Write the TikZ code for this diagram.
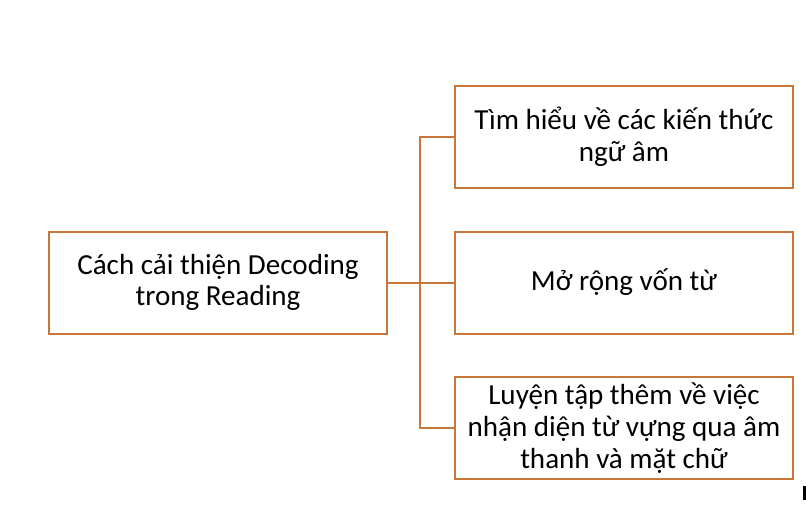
\documentclass[tikz,border=0pt]{standalone}
\usepackage{fontspec}
\setmainfont{Carlito}
\definecolor{boxline}{RGB}{200,118,58}
\begin{document}
\begin{tikzpicture}[x=0.75pt,y=-0.75pt,
  box/.style={draw=boxline,line width=1.5pt,minimum width=338*0.75pt,minimum height=102*0.75pt,
    align=center,inner sep=0pt,font=\fontsize{21.8}{23.8}\selectfont,text=black},
  link/.style={draw=boxline,line width=1.5pt}]
\useasboundingbox (0,0) rectangle (806,507);
\node[box] (root) at (218,282.5) {Cách cải thiện Decoding\\trong Reading};
\node[box] (a) at (624,137) {Tìm hiểu về các kiến thức\\ngữ âm};
\node[box] (b) at (624,282.5) {Mở rộng vốn từ};
\node[box] (c) at (624,428) {Luyện tập thêm về việc\\nhận diện từ vựng qua âm\\thanh và mặt chữ};
\coordinate (j) at (420,282.5);
\draw[link] (root.east) -- (j);
\draw[link] (a.west) -| (j) |- (c.west);
\draw[link] (j) -- (b.west);
\fill[black] (803,486) rectangle (806,500);
\end{tikzpicture}
\end{document}
